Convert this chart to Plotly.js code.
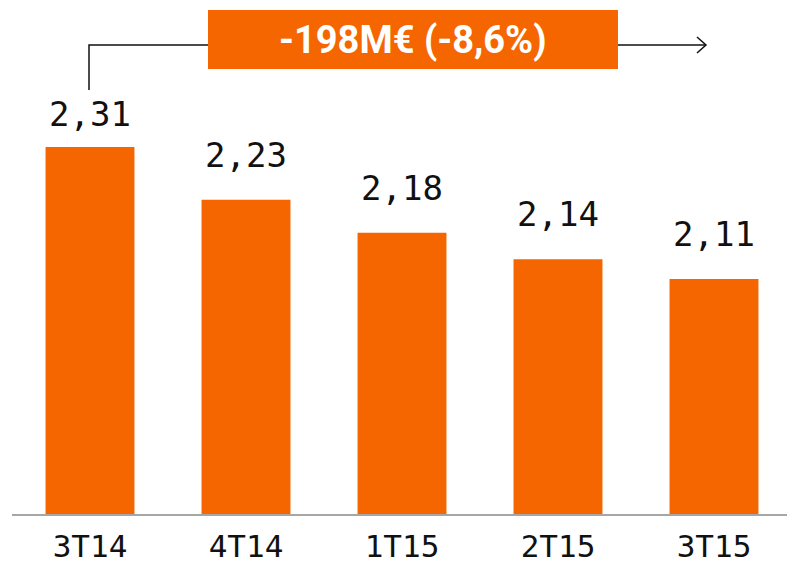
<!DOCTYPE html>
<html>
<head>
<meta charset="utf-8">
<script src="https://cdn.plot.ly/plotly-3.0.1.min.js"></script>
<style>html,body{margin:0;padding:0;background:#fff;}#chart{width:787px;height:566px;}</style>
</head>
<body>
<div id="chart"></div>
<script>
const categories = ["3T14", "4T14", "1T15", "2T15", "3T15"];
const values = [2.31, 2.23, 2.18, 2.14, 2.11];
const changeLabel = "-198M€ (-8,6%)";

const orange = "#F56600";
const fmt = v => v.toFixed(2).replace(".", ",");

const yMin = 1.754, yMax = 1.754 + 514 / 660;
const py = px => yMin + (514 - px) / 660; // pixel row -> data value for decorations
const pxX = px => (px - 12) / 156 - 0.5;  // pixel column -> category coordinate

const annotations = values.map((v, i) => ({
  x: i, y: v, xref: "x", yref: "y",
  text: fmt(v), showarrow: false,
  yanchor: "bottom", yshift: i === 0 ? 11 : 23,
  font: {family: "DejaVu Sans Mono", size: 34, color: "#111"}
}));
annotations.push({
  x: pxX(413), y: py(40), xref: "x", yref: "y",
  text: "<b>" + changeLabel + "</b>", showarrow: false,
  xanchor: "center", yanchor: "middle",
  font: {family: "Roboto", size: 38, color: "#fff"}
});

const shapes = [
  {type: "rect", xref: "x", yref: "y", x0: pxX(208), x1: pxX(618), y0: py(69), y1: py(10),
   fillcolor: orange, line: {width: 0}, layer: "above"},
  {type: "path", xref: "x", yref: "y",
   path: `M ${pxX(89)} ${py(90)} L ${pxX(89)} ${py(45)} L ${pxX(208)} ${py(45)}`,
   line: {color: "#111", width: 1.5}},
  {type: "line", xref: "x", yref: "y", x0: pxX(618), x1: pxX(706), y0: py(45), y1: py(45),
   line: {color: "#111", width: 1.5}},
  {type: "path", xref: "x", yref: "y",
   path: `M ${pxX(697)} ${py(37)} L ${pxX(706)} ${py(45)} L ${pxX(697)} ${py(53)}`,
   line: {color: "#111", width: 1.5}}
];

const trace = {
  type: "bar", x: categories.map((c, i) => i), y: values,
  marker: {color: orange}, width: 0.57, hoverinfo: "none"
};

const layout = {
  width: 787, height: 566,
  margin: {l: 12, r: 0, t: 0, b: 52},
  paper_bgcolor: "#fff", plot_bgcolor: "#fff",
  showlegend: false,
  xaxis: {
    range: [-0.5, 4.468], tickmode: "array",
    tickvals: categories.map((c, i) => i), ticktext: categories,
    showgrid: false, zeroline: false,
    showline: true, linecolor: "#a6a6a6", linewidth: 2,
    ticks: "outside", ticklen: 4, tickcolor: "rgba(0,0,0,0)",
    tickfont: {family: "DejaVu Sans Mono", size: 31, color: "#111"}
  },
  yaxis: {range: [yMin, yMax], visible: false, showgrid: false, zeroline: false},
  annotations: annotations,
  shapes: shapes
};

Plotly.newPlot("chart", [trace], layout, {displayModeBar: false, staticPlot: true});
</script>
</body>
</html>
